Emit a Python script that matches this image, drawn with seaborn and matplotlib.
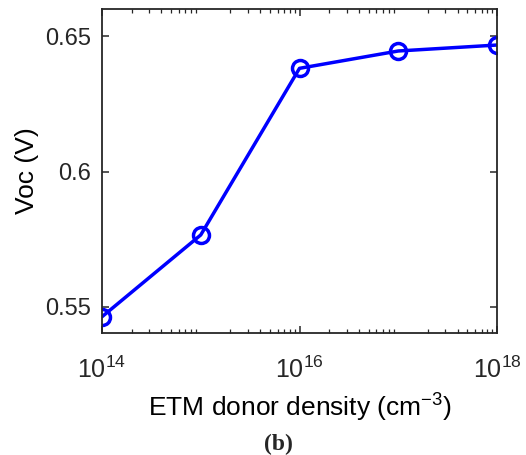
import numpy as np
import pandas as pd
import matplotlib
matplotlib.use("Agg")
import matplotlib.pyplot as plt
import seaborn as sns
from matplotlib.ticker import LogLocator, NullFormatter

# ETM donor density (cm^-3) and open-circuit voltage (V)
donor_density = [1e14, 1e15, 1e16, 1e17, 1e18]
voc = [0.5464, 0.5766, 0.6381, 0.6445, 0.6467]
y_ticks = [0.55, 0.6, 0.65]
y_tick_labels = ["0.55", "0.6", "0.65"]
x_ticks = [1e14, 1e16, 1e18]

sns.set_style("ticks")
plt.rcParams["font.family"] = ["Liberation Sans", "DejaVu Sans"]
plt.rcParams["mathtext.fontset"] = "custom"
plt.rcParams["mathtext.rm"] = "Liberation Sans"
plt.rcParams["mathtext.it"] = "Liberation Sans"

df = pd.DataFrame({"density": donor_density, "voc": voc})

fig = plt.figure(figsize=(5.26, 4.55), dpi=100)
ax = fig.add_axes([102 / 526, 1 - 333 / 455, (497 - 102) / 526, (333 - 9) / 455])

sns.lineplot(data=df, x="density", y="voc", ax=ax, color="#0000ff",
             linewidth=2.5, marker="o", markersize=11.5, markerfacecolor="none",
             markeredgecolor="#0000ff", markeredgewidth=2.5)

ax.set_xscale("log")
ax.set_xlim(1e14, 1e18)
ax.set_ylim(0.5404, 0.6600)
ax.set_xticks(x_ticks)
ax.set_xticklabels([r"$10^{14}$", r"$10^{16}$", r"$10^{18}$"])
ax.xaxis.set_minor_locator(LogLocator(base=10, subs=np.arange(2, 10), numticks=20))
ax.xaxis.set_minor_formatter(NullFormatter())
ax.set_yticks(y_ticks)
ax.set_yticklabels(y_tick_labels)

dark = "#262626"
for s in ax.spines.values():
    s.set_color(dark)
    s.set_linewidth(1.3)
ax.tick_params(which="both", direction="in", top=True, right=True, colors=dark)
ax.tick_params(which="major", length=5, width=1.1)
ax.tick_params(which="minor", length=3, width=0.9)
ax.tick_params(axis="y", which="major", labelsize=17, pad=8)
ax.tick_params(axis="x", which="major", labelsize=18, pad=17)

ax.set_xlabel(r"ETM donor density (cm$^{-3}$)", fontsize=19, color="black", labelpad=6)
ax.set_ylabel("Voc (V)", fontsize=19, color="black", labelpad=4)

fig.text(0.529, 1 - 444 / 455, "(b)", ha="center", va="center", fontsize=17,
         fontweight="bold", family=["Liberation Serif", "DejaVu Serif"])

fig.savefig("out.png", dpi=100)
